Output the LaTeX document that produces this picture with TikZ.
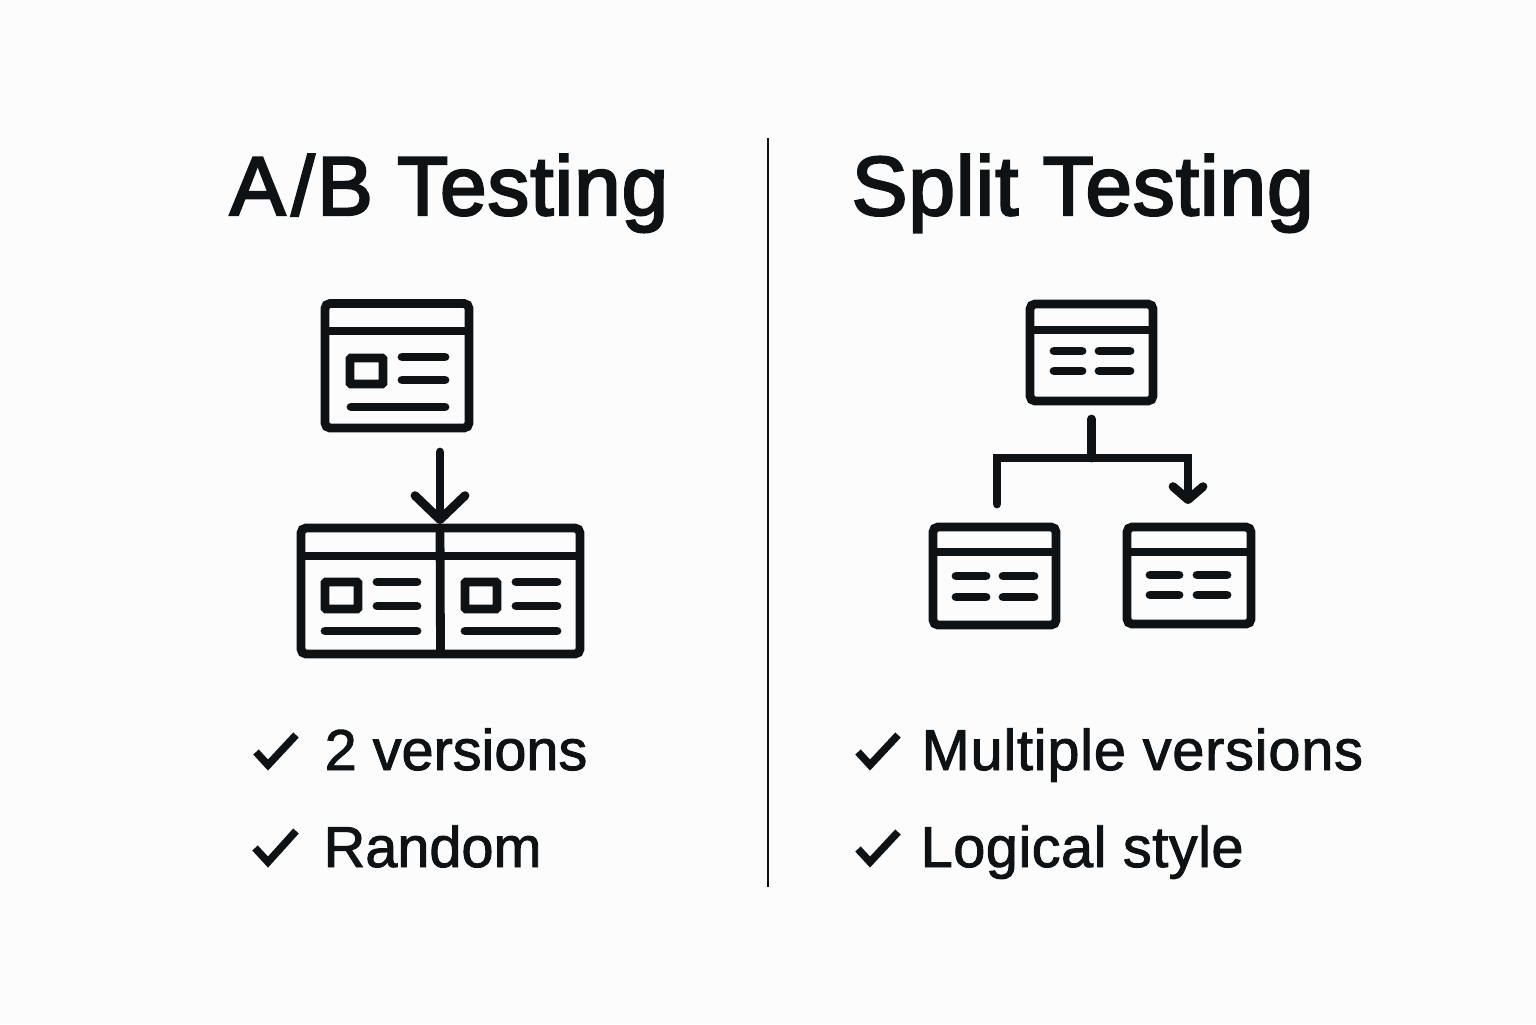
\documentclass[tikz,border=0pt]{standalone}
\usepackage{fontspec}
\usepackage{xcolor}
\usetikzlibrary{arrows.meta}
\setmainfont{Liberation Sans}
\newfontfamily\headfont[FakeBold=2.8,LetterSpace=1.2]{Liberation Sans}
\newfontfamily\itemfont[FakeBold=1.6]{Liberation Sans}
\definecolor{inkdark}{HTML}{0E1215}
\definecolor{paperbg}{HTML}{FCFCFC}
\tikzset{
  iconline/.style={draw=inkdark,line width=0.088cm,line cap=round,line join=round},
  winbox/.style={draw=inkdark,line width=0.088cm,rounded corners=0.05cm,outer sep=0pt,inner sep=0pt},
  thumbbox/.style={draw=inkdark,line width=0.088cm,rounded corners=0.01cm},
  headtext/.style={anchor=base west,inner sep=0pt,text=inkdark,font=\headfont\fontsize{23.8}{29}\selectfont},
  itemtext/.style={anchor=base west,inner sep=0pt,text=inkdark,font=\itemfont\fontsize{16.4}{20}\selectfont},
  tickline/.style={draw=inkdark,line width=0.075cm,line join=miter}
}
\begin{document}
\begin{tikzpicture}[x=1cm,y=-1cm]
    \useasboundingbox (0,0) rectangle (15.36,10.24);
    \fill[paperbg] (0,0) rectangle (15.36,10.24);
    \coordinate (ruletop) at (7.68,1.38);
    \coordinate (rulebot) at (7.68,8.87);
    \draw[draw=inkdark,line width=0.02cm] (ruletop) -- (rulebot);
    \node[headtext] (abtitle) at (2.29,2.15) {A\kern0.07em/\kern0.03em B Testing};
    \node[headtext] (splittitle) at (8.51,2.15) {Split Testing};
    % left icon
    \node[winbox,minimum width=1.44cm,minimum height=1.245cm] (abtop) at (3.97,3.6575) {};
    \node[winbox,minimum width=2.79cm,minimum height=1.26cm] (absplit) at (4.405,5.91) {};
    \draw[iconline,line cap=butt] (3.25,3.31) -- (4.69,3.31);
    \draw[thumbbox] (3.50,3.58) rectangle (3.83,3.84);
    \draw[iconline] (4.02,3.57) -- (4.45,3.57);
    \draw[iconline] (4.02,3.80) -- (4.45,3.80);
    \draw[iconline] (3.51,4.07) -- (4.45,4.07);
    \draw[iconline,line cap=butt] (3.02,5.56) -- (5.81,5.56);
    \draw[thumbbox] (3.25,5.82) rectangle (3.58,6.09);
    \draw[iconline] (3.77,5.82) -- (4.17,5.82);
    \draw[iconline] (3.77,6.06) -- (4.17,6.06);
    \draw[iconline] (3.25,6.31) -- (4.17,6.31);
    \draw[thumbbox] (4.65,5.82) rectangle (4.97,6.09);
    \draw[iconline] (5.16,5.82) -- (5.57,5.82);
    \draw[iconline] (5.16,6.06) -- (5.57,6.06);
    \draw[iconline] (4.65,6.31) -- (5.57,6.31);
    \coordinate (abstart) at (4.40,4.52);
    \coordinate (abtip) at (4.40,5.24);
    \draw[iconline,-{Straight Barb[round,length=0.24cm,width=0.50cm]}] (abstart) -- (abtip);
    \draw[iconline,line cap=butt] (abtip) -- (absplit.south);
    % right icon
    \node[winbox,minimum width=1.23cm,minimum height=0.97cm] (splittop) at (10.915,3.525) {};
    \node[winbox,minimum width=1.23cm,minimum height=0.98cm] (splitleft) at (9.945,5.76) {};
    \node[winbox,minimum width=1.24cm,minimum height=0.97cm] (splitright) at (11.89,5.755) {};
    \draw[iconline,line cap=butt] (10.30,3.30) -- (11.53,3.30);
    \draw[iconline] (10.54,3.51) -- (10.82,3.51);
    \draw[iconline] (10.99,3.51) -- (11.30,3.51);
    \draw[iconline] (10.54,3.71) -- (10.82,3.71);
    \draw[iconline] (10.99,3.71) -- (11.30,3.71);
    \draw[iconline,line cap=butt] (9.33,5.52) -- (10.56,5.52);
    \draw[iconline] (9.56,5.76) -- (9.86,5.76);
    \draw[iconline] (10.03,5.76) -- (10.34,5.76);
    \draw[iconline] (9.56,5.97) -- (9.86,5.97);
    \draw[iconline] (10.03,5.97) -- (10.34,5.97);
    \draw[iconline,line cap=butt] (11.27,5.52) -- (12.51,5.52);
    \draw[iconline] (11.50,5.75) -- (11.79,5.75);
    \draw[iconline] (11.97,5.75) -- (12.27,5.75);
    \draw[iconline] (11.50,5.95) -- (11.79,5.95);
    \draw[iconline] (11.97,5.95) -- (12.27,5.95);
    \coordinate (forkjoin) at (10.915,4.58);
    \coordinate (forkleft) at (9.97,5.04);
    \coordinate (forkright) at (11.88,5.04);
    \draw[iconline,shorten <=0.18cm] (splittop.south) -- (forkjoin);
    \draw[iconline,line join=miter,-{Straight Barb[round,length=0.13cm,width=0.30cm]}] (forkleft) |- (forkjoin) -| (forkright);
    % check lists
    \draw[tickline] (2.56,7.52) -- (2.68,7.65) -- (2.96,7.35);
    \draw[tickline] (2.55,8.48) -- (2.68,8.62) -- (2.96,8.31);
    \draw[tickline] (8.58,7.52) -- (8.70,7.65) -- (8.98,7.35);
    \draw[tickline] (8.58,8.49) -- (8.70,8.62) -- (8.98,8.32);
    \node[itemtext] (abitema) at (3.24,7.70) {2 versions};
    \node[itemtext] (abitemb) at (3.23,8.67) {Random};
    \node[itemtext] (splititema) at (9.21,7.70) {\addfontfeature{LetterSpace=1.4}Multiple versions};
    \node[itemtext] (splititemb) at (9.20,8.67) {\addfontfeature{LetterSpace=0.9}Logical style};
  \end{tikzpicture}
\end{document}
